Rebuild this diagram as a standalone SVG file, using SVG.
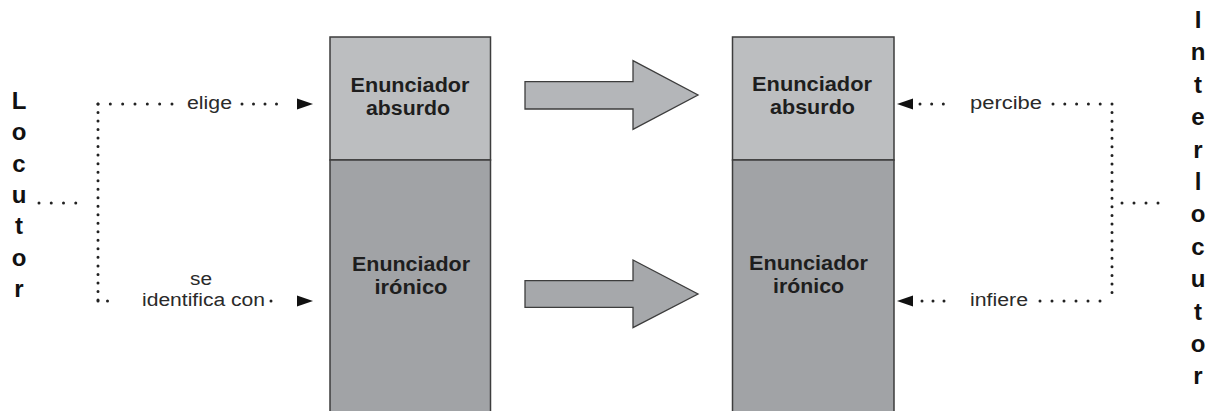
<svg xmlns="http://www.w3.org/2000/svg" width="1210" height="411" viewBox="0 0 1210 411">
<style>
.bx{stroke:#3d3d3d;stroke-width:1.5}
.top{fill:#bcbec0}
.bot{fill:#a1a3a6}
.ba{stroke:#3d3d3d;stroke-width:1.3}
.bt{font-family:"Liberation Sans",Arial,sans-serif;font-weight:bold;font-size:19.5px;fill:#1e1e1e;text-anchor:middle}
.lb{font-family:"Liberation Sans",Arial,sans-serif;font-size:18px;fill:#2a2a2a;text-anchor:middle}
.vt{font-family:"Liberation Sans",Arial,sans-serif;font-weight:bold;font-size:24px;fill:#111;text-anchor:middle}
.dh{fill:none;stroke:#222;stroke-width:3;stroke-linecap:round}
.ah{fill:#111}
</style>
<rect width="1210" height="411" fill="#fff"/>
<g id="locutor">
<text class="vt" x="19" y="109">L</text>
<text class="vt" x="19" y="140.3">o</text>
<text class="vt" x="19" y="171.6">c</text>
<text class="vt" x="19" y="202.9">u</text>
<text class="vt" x="19" y="234.2">t</text>
<text class="vt" x="19" y="265.5">o</text>
<text class="vt" x="19" y="296.8">r</text>
</g>
<g id="interlocutor">
<text class="vt" x="1198" y="28">I</text>
<text class="vt" x="1198" y="60.4">n</text>
<text class="vt" x="1198" y="92.8">t</text>
<text class="vt" x="1198" y="125.2">e</text>
<text class="vt" x="1198" y="157.6">r</text>
<text class="vt" x="1198" y="190">l</text>
<text class="vt" x="1198" y="222.4">o</text>
<text class="vt" x="1198" y="254.8">c</text>
<text class="vt" x="1198" y="287.2">u</text>
<text class="vt" x="1198" y="319.6">t</text>
<text class="vt" x="1198" y="352">o</text>
<text class="vt" x="1198" y="384.4">r</text>
</g>
<g id="left-absurdo">
<rect class="bx top" x="330" y="37" width="160.5" height="123"/>
<text class="bt" x="410" y="91.5" textLength="119" lengthAdjust="spacingAndGlyphs">Enunciador</text>
<text class="bt" x="408" y="115" textLength="84" lengthAdjust="spacingAndGlyphs">absurdo</text>
</g>
<g id="left-ironico">
<rect class="bx bot" x="330" y="160" width="160.5" height="260"/>
<text class="bt" x="411" y="270.5" textLength="118" lengthAdjust="spacingAndGlyphs">Enunciador</text>
<text class="bt" x="411" y="293.5" textLength="73" lengthAdjust="spacingAndGlyphs">irónico</text>
</g>
<g id="right-absurdo">
<rect class="bx top" x="732.5" y="37" width="161.5" height="123"/>
<text class="bt" x="812" y="91" textLength="120" lengthAdjust="spacingAndGlyphs">Enunciador</text>
<text class="bt" x="812.5" y="113.5" textLength="85" lengthAdjust="spacingAndGlyphs">absurdo</text>
</g>
<g id="right-ironico">
<rect class="bx bot" x="732.5" y="160" width="161.5" height="260"/>
<text class="bt" x="808.5" y="270" textLength="119" lengthAdjust="spacingAndGlyphs">Enunciador</text>
<text class="bt" x="808.5" y="293" textLength="71" lengthAdjust="spacingAndGlyphs">irónico</text>
</g>
<g id="connectors">
<polygon class="ba" fill="#b4b6b9" points="525,81.7 633,81.7 633,60.7 698,95 633,129.3 633,109 525,109"/>
<polygon class="ba" fill="#a6a8ab" points="525,280.7 633,280.7 633,260 698,294 633,327.7 633,307.3 525,307.3"/>
<path class="dh" d="M39 203H88" stroke-dasharray="0 12.25"/>
<path class="dh" d="M98 104V300" stroke-dasharray="0 8.52"/>
<path class="dh" d="M98 104H172" stroke-dasharray="0 12.33"/>
<path class="dh" d="M242 104H288" stroke-dasharray="0 11.5"/>
<polygon class="ah" points="297,98.5 313,104 297,109.5"/>
<path class="dh" d="M98 301H117" stroke-dasharray="0 9.5"/>
<path class="dh" d="M271 301H283" stroke-dasharray="0 12"/>
<polygon class="ah" points="297,295.5 313,301 297,306.5"/>
<text class="lb" x="209.5" y="108.5" textLength="45" lengthAdjust="spacingAndGlyphs">elige</text>
<text class="lb" x="201" y="285" textLength="22" lengthAdjust="spacingAndGlyphs">se</text>
<text class="lb" x="203.5" y="305.5" textLength="123" lengthAdjust="spacingAndGlyphs">identifica con</text>
<polygon class="ah" points="913,98.5 897,104 913,109.5"/>
<path class="dh" d="M920 104H955" stroke-dasharray="0 11.67"/>
<path class="dh" d="M1053 104H1112" stroke-dasharray="0 11.8"/>
<path class="dh" d="M1112 104V301" stroke-dasharray="0 8.57"/>
<path class="dh" d="M1122 203H1170" stroke-dasharray="0 12"/>
<polygon class="ah" points="913,295.5 897,301 913,306.5"/>
<path class="dh" d="M922 301H955" stroke-dasharray="0 11"/>
<path class="dh" d="M1040 301H1112" stroke-dasharray="0 12"/>
<text class="lb" x="1006" y="108.5" textLength="72" lengthAdjust="spacingAndGlyphs">percibe</text>
<text class="lb" x="999" y="305.5" textLength="58" lengthAdjust="spacingAndGlyphs">infiere</text>
</g>
</svg>
